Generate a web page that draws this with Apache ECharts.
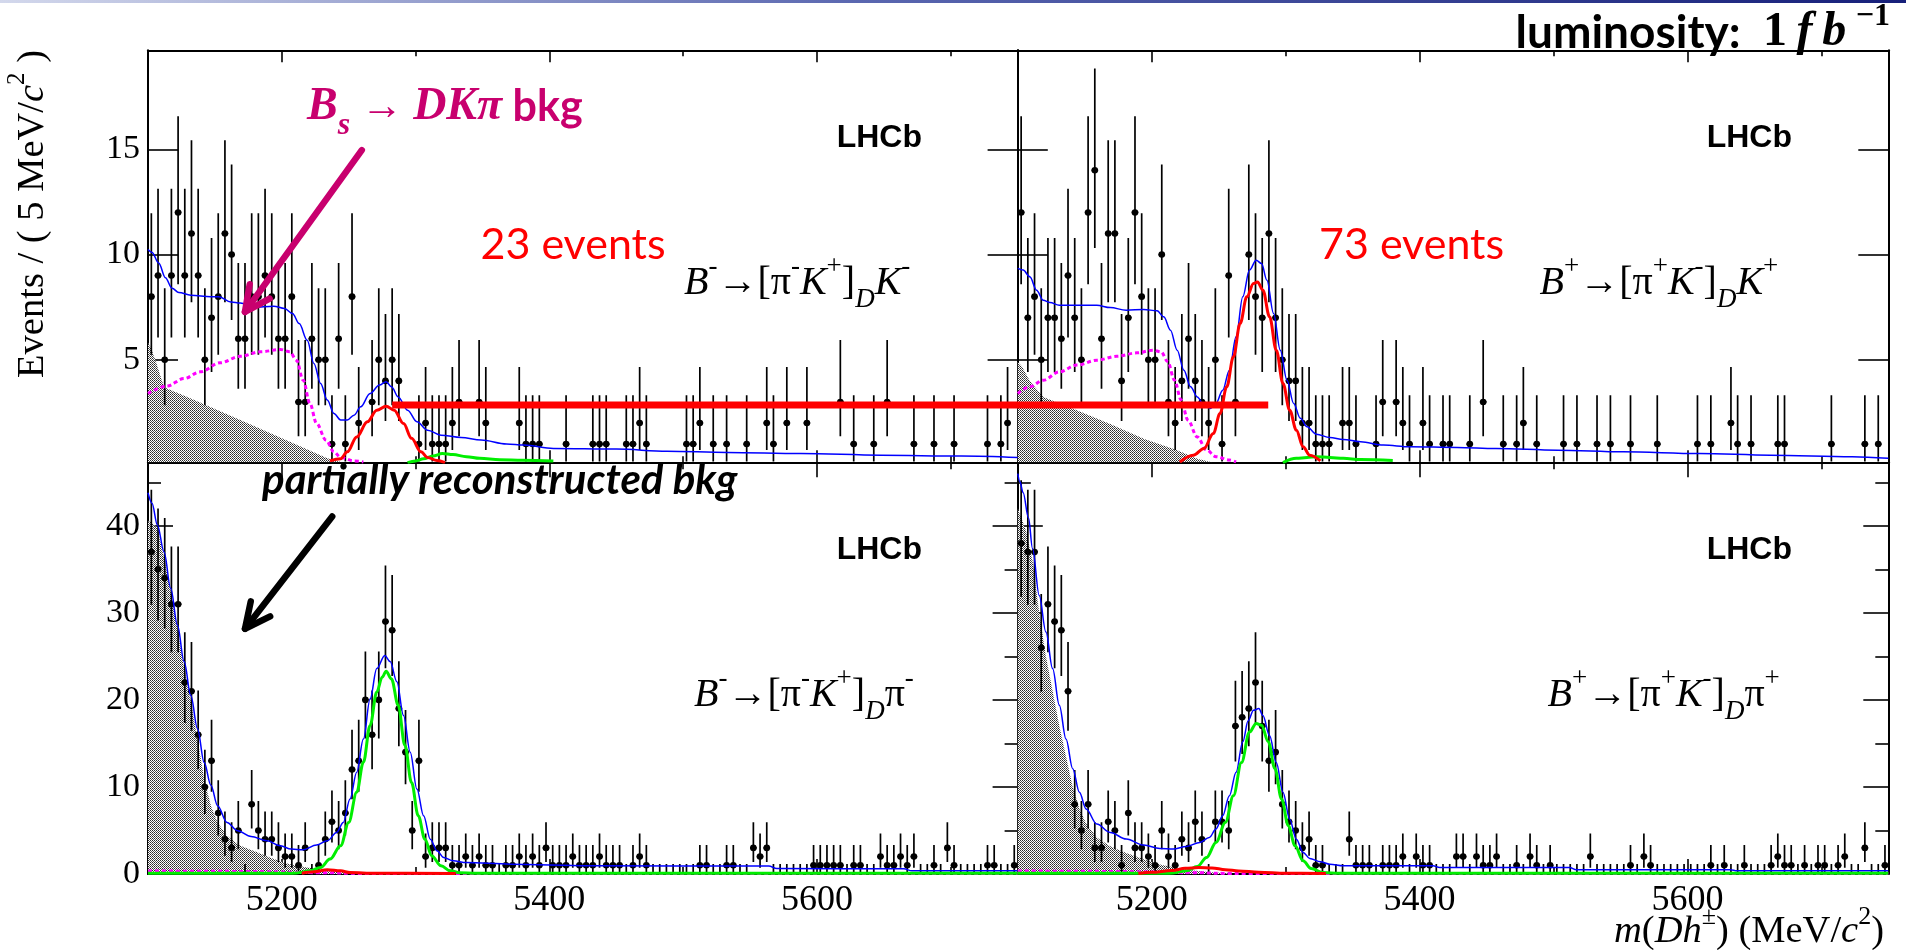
<!DOCTYPE html>
<html>
<head>
<meta charset="utf-8">
<title>B → [πK]_D h invariant mass fits</title>
<script src="https://cdn.jsdelivr.net/npm/echarts@6.0.0/dist/echarts.min.js"></script>
<style>
  html, body { margin: 0; padding: 0; background: #ffffff; }
  #chart { width: 1906px; height: 950px; }
</style>
</head>
<body>
<div id="chart"></div>
<script>
// ---------- binning ----------
const MASS_MIN = 5100;
const MASS_MAX = 5750;
const BIN_WIDTH = 5;

// ---------- tick values ----------
const massMajorTicks = [5200, 5400, 5600];
const massMinorTicks = [5300, 5500, 5700];
const dkTicks = [5, 10, 15];
const dpiMajorTicks = [0, 10, 20, 30, 40];
const dpiMinorTicks = [5, 15, 25, 35, 45];

// ---------- candidates per 5 MeV/c^2 bin, first bin starts at 5100 ----------
const countsKminus = [8,9,5,9,12,9,11,9,5,7, 8,11,10,6,6,8,8,9,8,6, 6,8,3,3,6,5,5,1,6,1,
  8,2,0,3,5,4,5,4,0,0, 1,2,1,1,1,2,3,0,0,3, 2,0,0,0,0,2,1,1,1,0, 0,0,1,0,0,0,1,1,1,0,
  0,1,1,2,1,0,0,0,0,0, 1,1,2,0,1,0,1,0,0,1, 0,0,2,1,0,2,0,0,2,0, 0,0,0,3,0,1,0,0,1,0,
  3,0,0,0,1,0,0,1,0,0, 1,0,0,0,0,1,0,1,2,0];
const countsKplus = [12,7,8,5,7,7,6,9,7,5, 12,14,6,11,11,4,7,12,8,5, 5,10,3,2,4,6,4,3,2,5,
  1,9,3,0,10,8,7,11,7,5, 4,4,2,2,1,1,1,0,2,2, 1,0,0,1,3,0,3,2,1,0, 2,1,0,1,1,0,0,1,0,3,
  0,0,1,0,1,2,0,1,0,0, 0,1,0,1,0,0,1,0,1,0, 0,1,0,0,0,1,0,0,0,0, 0,1,0,1,0,0,2,1,0,1,
  0,0,0,1,1,0,0,0,0,0, 0,1,0,0,0,0,1,0,1,0];
const countsPiMinus = [37,35,34,31,31,22,21,16,10,13, 7,4,3,5,0,8,5,4,4,3, 2,2,1,3,0,1,4,6,5,7,
  12,13,20,16,20,29,28,19,14,5, 13,2,3,3,3,1,1,2,1,2, 1,1,0,1,1,2,1,2,1,3, 1,1,1,2,1,1,1,2,1,1,
  1,0,1,2,1,0,0,0,0,0, 0,0,1,1,0,0,1,1,0,0, 3,2,3,0,0,0,0,0,0,1, 1,1,1,1,0,1,1,0,0,2,
  1,1,2,1,2,0,0,1,0,3, 1,0,0,0,0,1,1,0,0,1];
const countsPiPlus = [38,37,37,26,31,29,28,21,8,5, 8,3,3,6,5,1,7,3,3,2, 1,5,2,1,4,3,6,4,0,6,
  6,5,17,18,19,22,17,13,14,8, 6,5,3,4,1,1,0,0,0,4, 1,1,1,0,1,1,1,2,0,2, 1,1,0,0,0,2,2,0,2,1,
  1,2,0,0,1,0,2,1,0,1, 0,0,0,0,0,2,0,0,0,0, 0,1,0,2,1,0,0,0,0,0, 0,0,0,1,0,1,0,0,1,0,
  0,0,1,2,1,1,0,1,0,1, 1,0,1,2,0,0,3,0,0,1];

// ---------- fit components, [mass, events per bin] ----------
// B- -> [pi- K+]_D K-
const totalKminus = [[5100,10.24],[5103,10.1],[5108,9.6],[5113,8.9],[5118,8.4],[5123,8.2],[5132,8.07],[5147,8.0],[5153,8.0],[5162,7.75],[5169,7.7],[5179,7.5],[5194,7.55],[5202,7.44],[5208,7.2],[5213,6.72],[5219,5.93],[5224,4.83],[5229,3.88],[5234,3.09],[5239,2.45],[5244,2.14],[5249,2.14],[5254,2.37],[5259,2.77],[5266,3.4],[5273,3.8],[5278,3.96],[5282,3.72],[5287,3.24],[5294,2.61],[5301,2.06],[5309,1.66],[5319,1.42],[5334,1.31],[5349,1.19],[5368,1.0],[5381,0.95],[5403,0.79],[5450,0.76],[5488,0.66],[5533,0.6],[5588,0.55],[5648,0.47],[5708,0.43],[5750,0.36]];
const signalKminus = [[5236,0.2],[5244,0.3],[5249,0.63],[5256,1.34],[5264,2.06],[5271,2.61],[5278,2.8],[5284,2.61],[5291,1.98],[5297,1.27],[5304,0.63],[5309,0.36],[5316,0.22],[5322,0.12]];
const misidKminus = [[5294,0.12],[5300,0.2],[5306,0.3],[5313,0.43],[5320,0.55],[5328,0.5],[5338,0.4],[5348,0.32],[5363,0.26],[5380,0.23],[5403,0.2]];
const bsKminus = [[5100,3.4],[5114,3.75],[5127,4.11],[5139,4.43],[5154,4.86],[5169,5.17],[5184,5.38],[5199,5.49],[5206,5.38],[5211,4.98],[5216,4.03],[5221,2.93],[5226,1.98],[5233,1.19],[5239,0.63],[5244,0.36],[5254,0.2],[5261,0.15]];
const partRecoKminus = [[5100,5.8],[5102,5.6],[5106,4.9],[5112,3.7],[5132,3.16],[5169,2.14],[5206,1.11],[5234,0.32],[5245,0.13]];

// B+ -> [pi+ K-]_D K+
const totalKplus = [[5100,9.34],[5104,9.26],[5109,8.94],[5114,8.31],[5119,7.83],[5124,7.72],[5131,7.59],[5144,7.59],[5159,7.59],[5169,7.48],[5181,7.36],[5194,7.39],[5204,7.33],[5209,7.04],[5214,6.41],[5219,5.46],[5224,4.51],[5229,3.72],[5234,3.24],[5239,2.85],[5244,2.69],[5248,2.93],[5253,3.56],[5258,4.51],[5263,6.09],[5268,7.99],[5273,9.26],[5278,9.73],[5282,9.57],[5286,8.78],[5291,7.2],[5296,5.46],[5301,4.03],[5306,2.93],[5311,2.22],[5316,1.82],[5323,1.47],[5333,1.31],[5343,1.22],[5356,1.11],[5373,0.95],[5393,0.87],[5428,0.84],[5457,0.79],[5503,0.71],[5552,0.63],[5609,0.55],[5662,0.47],[5723,0.4],[5750,0.32]];
const signalKplus = [[5221,0.15],[5231,0.47],[5239,0.79],[5246,1.5],[5251,2.45],[5256,3.72],[5261,5.14],[5266,6.72],[5271,7.99],[5276,8.62],[5279,8.7],[5283,8.31],[5288,7.04],[5293,5.46],[5298,3.88],[5303,2.61],[5308,1.66],[5313,0.87],[5318,0.47],[5326,0.2]];
const misidKplus = [[5298,0.12],[5308,0.32],[5316,0.36],[5323,0.4],[5333,0.36],[5343,0.32],[5356,0.27],[5380,0.22]];
const bsKplus = [[5100,3.4],[5109,3.72],[5119,4.03],[5131,4.43],[5144,4.75],[5159,4.98],[5174,5.17],[5189,5.33],[5201,5.46],[5207,5.38],[5212,4.91],[5217,4.03],[5222,3.09],[5227,2.14],[5234,1.34],[5241,0.71],[5248,0.4],[5258,0.24],[5263,0.15]];
const partRecoKplus = [[5100,4.9],[5103,4.7],[5109,4.0],[5119,3.24],[5144,2.6],[5169,1.95],[5194,1.25],[5219,0.71],[5234,0.3],[5245,0.13]];

// B- -> [pi- K+]_D pi-
const totalPiMinus = [[5100,43.8],[5103,42.6],[5107,40.1],[5112,37.0],[5117,32.8],[5122,28.6],[5127,24.4],[5132,20.5],[5137,16.7],[5142,12.8],[5147,10.2],[5152,7.85],[5159,5.93],[5167,4.97],[5177,4.32],[5189,3.82],[5199,3.24],[5207,2.86],[5216,2.78],[5226,3.32],[5234,3.82],[5241,4.78],[5246,5.93],[5251,8.62],[5256,11.7],[5261,15.5],[5266,20.1],[5271,23.6],[5277,25.1],[5281,24.4],[5286,22.1],[5291,18.2],[5296,14.0],[5301,9.77],[5306,6.7],[5311,4.0],[5316,2.67],[5321,1.9],[5328,1.52],[5338,1.32],[5371,1.13],[5430,0.94],[5564,0.92],[5570,0.63],[5665,0.6],[5671,0.36],[5750,0.36]];
const dpiPeakPiMinus = [[5100,0.08],[5205,0.08],[5211,0.12],[5221,0.36],[5229,0.75],[5236,1.71],[5244,3.24],[5250,5.93],[5256,9.39],[5261,12.85],[5266,17.07],[5271,20.9],[5275,22.6],[5278,23.3],[5282,22.4],[5287,19.4],[5292,14.8],[5297,10.5],[5302,6.7],[5307,4.0],[5312,2.1],[5319,0.94],[5326,0.36],[5333,0.15],[5345,0.08],[5750,0.08]];
const dkMisidPiMinus = [[5215,0.08],[5224,0.25],[5234,0.48],[5244,0.36],[5251,0.17],[5270,0.08],[5330,0.05]];
const bsPiMinus = [[5100,0.35],[5170,0.3],[5230,0.15],[5260,0.06],[5750,0.05]];
const partRecoPiMinus = [[5100,40.5],[5102,40.5],[5107,39.7],[5112,36.3],[5117,32.4],[5122,28.2],[5127,23.6],[5132,19.8],[5137,15.5],[5142,10.9],[5147,7.85],[5152,5.93],[5159,4.4],[5169,3.24],[5182,2.48],[5194,1.71],[5206,1.13],[5219,0.75],[5231,0.48],[5244,0.25],[5256,0.1],[5260,0]];

// B+ -> [pi+ K-]_D pi+
const totalPiPlus = [[5100,46.0],[5101.5,45.1],[5104,43.8],[5108,40.9],[5111,37.4],[5116,32.0],[5121,27.8],[5126,23.6],[5131,19.4],[5136,15.5],[5141,12.1],[5146,9.4],[5151,7.47],[5159,5.74],[5169,4.78],[5181,4.01],[5194,3.32],[5206,2.94],[5216,2.86],[5226,3.17],[5236,3.63],[5243,4.2],[5248,5.17],[5253,6.7],[5258,9.0],[5263,11.7],[5268,15.2],[5272,17.6],[5276,18.8],[5280,19.0],[5283,18.2],[5288,15.9],[5293,12.8],[5298,9.4],[5303,6.3],[5308,4.0],[5313,2.48],[5318,1.79],[5326,1.4],[5333,1.13],[5343,0.94],[5410,0.94],[5415,0.75],[5512,0.75],[5517,0.48],[5632,0.48],[5637,0.36],[5750,0.36]];
const dpiPeakPiPlus = [[5100,0.08],[5210,0.08],[5216,0.12],[5226,0.36],[5234,0.86],[5241,1.9],[5248,3.63],[5255,5.93],[5261,9.0],[5267,12.8],[5273,16.3],[5278,17.3],[5282,17.1],[5287,15.2],[5292,12.1],[5297,8.6],[5302,5.55],[5307,3.24],[5313,1.52],[5319,0.63],[5328,0.17],[5340,0.08],[5750,0.08]];
const dkMisidPiPlus = [[5190,0.05],[5200,0.2],[5215,0.4],[5225,0.65],[5235,0.75],[5245,0.7],[5255,0.5],[5265,0.35],[5280,0.2],[5300,0.08],[5330,0.05]];
const bsPiPlus = [[5100,0.35],[5170,0.3],[5230,0.15],[5260,0.06],[5750,0.05]];
const partRecoPiPlus = [[5100,42],[5106,39.5],[5111,36],[5116,30],[5121,25],[5126,21],[5131,17],[5136,13.5],[5141,10],[5146,7.5],[5151,5.8],[5159,4.2],[5169,3.2],[5181,2.4],[5194,1.7],[5206,1.1],[5219,0.7],[5231,0.4],[5244,0.2],[5256,0.08],[5260,0]];

// ---------- styling ----------
const COL_TOTAL = '#0000ff';
const COL_RED = '#ff0000';
const COL_GREEN = '#00ee00';
const COL_BS = '#ff00ff';
const COL_NOTE = '#c8006e';
const SERIF = 'Liberation Serif';

// stippled fill used for the partially reconstructed background
const dotTile = document.createElement('canvas');
dotTile.width = 2; dotTile.height = 2;
(function () {
  const c = dotTile.getContext('2d');
  c.fillStyle = '#ffffff'; c.fillRect(0, 0, 2, 2);
  c.fillStyle = '#2a2a2a'; c.fillRect(0, 0, 1, 1);
  c.fillStyle = '#555555'; c.fillRect(1, 1, 1, 1);
})();

const panels = [
  { left: 148, top: 50.3, width: 869.6, height: 412, yMin: 0.133, yMax: 19.7,
    yMajor: dkTicks, yMinor: null, yLabels: true, xLabels: false, yMajorLen: 30, xMajorLen: 12, xMinorLen: 6,
    counts: countsKminus, zeroBins: false,
    partReco: partRecoKminus, total: totalKminus, bs: bsKminus, green: misidKminus, red: signalKminus },
  { left: 1017.8, top: 50.3, width: 870.5, height: 412, yMin: 0.133, yMax: 19.7,
    yMajor: dkTicks, yMinor: null, yLabels: false, xLabels: false, yMajorLen: 30, xMajorLen: 12, xMinorLen: 6,
    counts: countsKplus, zeroBins: false,
    partReco: partRecoKplus, total: totalKplus, bs: bsKplus, green: misidKplus, red: signalKplus },
  { left: 148, top: 462.3, width: 869.6, height: 411.7, yMin: 0, yMax: 47.3,
    yMajor: dpiMajorTicks, yMinor: dpiMinorTicks, yLabels: true, xLabels: true, yMajorLen: 25, xMajorLen: 15, xMinorLen: 7,
    counts: countsPiMinus, zeroBins: true,
    partReco: partRecoPiMinus, total: totalPiMinus, bs: bsPiMinus, green: dpiPeakPiMinus, red: dkMisidPiMinus },
  { left: 1017.8, top: 462.3, width: 870.5, height: 411.7, yMin: 0, yMax: 47.3,
    yMajor: dpiMajorTicks, yMinor: dpiMinorTicks, yLabels: false, xLabels: true, yMajorLen: 25, xMajorLen: 15, xMinorLen: 7,
    counts: countsPiPlus, zeroBins: true,
    partReco: partRecoPiPlus, total: totalPiPlus, bs: bsPiPlus, green: dpiPeakPiPlus, red: dkMisidPiPlus }
];

// 68% central Poisson interval for an observed count
function poissonInterval(n) {
  if (n === 0) return [0, 1.148];
  const lo = n * Math.pow(1 - 1 / (9 * n) - 1 / (3 * Math.sqrt(n)), 3);
  const hi = n + Math.sqrt(n + 0.75) + 1;
  return [lo, hi];
}

const plainNumber = function (v) { return String(v); };

function massAxis(gi, position, ticks, len, showLine, labels) {
  return {
    gridIndex: gi, type: 'value', min: MASS_MIN, max: MASS_MAX, position: position,
    axisLine: { show: showLine, onZero: false, lineStyle: { color: '#000', width: 2 } },
    axisTick: { show: true, inside: true, length: len, customValues: ticks, lineStyle: { color: '#000', width: 1.6 } },
    axisLabel: labels
      ? { show: true, customValues: ticks, margin: 9, color: '#000', fontFamily: SERIF, fontSize: 36, formatter: plainNumber }
      : { show: false },
    splitLine: { show: false }
  };
}

function countAxis(gi, p, position, ticks, len, showLine, labels) {
  return {
    gridIndex: gi, type: 'value', min: p.yMin, max: p.yMax, position: position,
    axisLine: { show: showLine, onZero: false, lineStyle: { color: '#000', width: 2 } },
    axisTick: ticks
      ? { show: true, inside: true, length: len, customValues: ticks, lineStyle: { color: '#000', width: 1.6 } }
      : { show: false },
    axisLabel: labels
      ? { show: true, customValues: ticks, margin: 8, color: '#000', fontFamily: SERIF, fontSize: 34, formatter: plainNumber }
      : { show: false },
    splitLine: { show: false }
  };
}

function renderBin(params, api) {
  const m = api.value(0), n = api.value(1), lo = api.value(2), hi = api.value(3);
  const top = api.coord([m, hi]);
  const bot = api.coord([m, lo]);
  const c = api.coord([m, n]);
  const l = api.coord([m - BIN_WIDTH / 2, n]);
  const r = api.coord([m + BIN_WIDTH / 2, n]);
  const st = { stroke: '#000', lineWidth: 1.7 };
  const children = [
    { type: 'line', shape: { x1: top[0], y1: top[1], x2: bot[0], y2: bot[1] }, style: st },
    { type: 'line', shape: { x1: l[0], y1: l[1], x2: r[0], y2: r[1] }, style: st }
  ];
  if (n > 0) children.push({ type: 'circle', shape: { cx: c[0], cy: c[1], r: 3.3 }, style: { fill: '#000' } });
  return { type: 'group', children: children };
}

function curve(xi, yi, data, color, width, z, dash) {
  return {
    type: 'line', xAxisIndex: xi, yAxisIndex: yi, data: data, symbol: 'none',
    smooth: 0.35, smoothMonotone: 'x', clip: true, silent: true, z: z,
    lineStyle: { color: color, width: width, type: dash || 'solid' },
    emphasis: { disabled: true }
  };
}

const grids = [], xAxes = [], yAxes = [], series = [];
panels.forEach(function (p, k) {
  grids.push({ left: p.left, top: p.top, width: p.width, height: p.height, outerBoundsMode: 'none', containLabel: false });
  xAxes.push(massAxis(k, 'bottom', massMajorTicks, p.xMajorLen, true, p.xLabels));
  xAxes.push(massAxis(k, 'top', massMajorTicks, p.xMajorLen, true, false));
  xAxes.push(massAxis(k, 'bottom', massMinorTicks, p.xMinorLen, false, false));
  xAxes.push(massAxis(k, 'top', massMinorTicks, p.xMinorLen, false, false));
  yAxes.push(countAxis(k, p, 'left', p.yMajor, p.yMajorLen, true, p.yLabels));
  yAxes.push(countAxis(k, p, 'right', p.yMajor, p.yMajorLen, true, false));
  yAxes.push(countAxis(k, p, 'left', p.yMinor, 13, false, false));
  yAxes.push(countAxis(k, p, 'right', p.yMinor, 13, false, false));
  const xi = 4 * k, yi = 4 * k;

  series.push({
    type: 'line', xAxisIndex: xi, yAxisIndex: yi, data: p.partReco, symbol: 'none', silent: true, z: 1,
    clip: true, lineStyle: { width: 0, opacity: 0 },
    areaStyle: { color: { image: dotTile, repeat: 'repeat' }, opacity: 1, origin: 'start' },
    emphasis: { disabled: true }
  });

  const bins = [];
  p.counts.forEach(function (n, i) {
    if (n === 0 && !p.zeroBins) return;
    const iv = poissonInterval(n);
    bins.push([MASS_MIN + BIN_WIDTH * (i + 0.5), n, iv[0], iv[1]]);
  });
  series.push({
    type: 'custom', xAxisIndex: xi, yAxisIndex: yi, data: bins, clip: true, z: 3, silent: true,
    dimensions: ['mass', 'count', 'low', 'high'], encode: { x: 0, y: [1, 2, 3] },
    renderItem: renderBin
  });

  series.push(curve(xi, yi, p.total, COL_TOTAL, 1.5, 4));
  series.push(curve(xi, yi, p.bs, COL_BS, 3, 5, [4, 3]));
  series.push(curve(xi, yi, p.green, COL_GREEN, 3, 5));
  series.push(curve(xi, yi, p.red, COL_RED, 3, 6));
});

const chart = echarts.init(document.getElementById('chart'), null, { renderer: 'canvas' });
chart.setOption({
  backgroundColor: '#ffffff',
  animation: false,
  grid: grids,
  xAxis: xAxes,
  yAxis: yAxes,
  series: series
});

// ---------- annotations ----------
function px(panel, m, v) {
  return chart.convertToPixel({ xAxisIndex: 4 * panel, yAxisIndex: 4 * panel }, [m, v]);
}

function arrow(p0, p1, color, width) {
  const dx = p0[0] - p1[0], dy = p0[1] - p1[1];
  const len = Math.hypot(dx, dy);
  const ux = dx / len, uy = dy / len;
  const head = 28, ang = 26 * Math.PI / 180;
  const rot = function (a) { return [ux * Math.cos(a) - uy * Math.sin(a), ux * Math.sin(a) + uy * Math.cos(a)]; };
  const w1 = rot(ang), w2 = rot(-ang);
  const tip = [p1[0] + ux * 2, p1[1] + uy * 2];
  return [
    { type: 'line', z: 100, shape: { x1: p0[0], y1: p0[1], x2: tip[0], y2: tip[1] },
      style: { stroke: color, lineWidth: width, lineCap: 'round' } },
    { type: 'polyline', z: 100,
      shape: { points: [[tip[0] + w1[0] * head, tip[1] + w1[1] * head], tip, [tip[0] + w2[0] * head, tip[1] + w2[1] * head]] },
      style: { stroke: color, lineWidth: width, fill: null, lineJoin: 'round', lineCap: 'round' } }
  ];
}

function plain(x, y, text, font, fill, align) {
  return { type: 'text', z: 100, x: x, y: y,
    style: Object.assign({ text: text, fill: fill || '#000', align: align || 'left', verticalAlign: 'middle' }, font) };
}

const decayRich = {
  n: { fontFamily: SERIF, fontSize: 40, lineHeight: 60, fill: '#000' },
  it: { fontFamily: SERIF, fontStyle: 'italic', fontSize: 40, lineHeight: 60, fill: '#000' },
  sup: { fontFamily: SERIF, fontSize: 27, lineHeight: 26, verticalAlign: 'top', fill: '#000' },
  sub: { fontFamily: SERIF, fontStyle: 'italic', fontSize: 27, lineHeight: 14, verticalAlign: 'bottom', fill: '#000' }
};
function decay(x, y, text) {
  return { type: 'text', z: 100, x: x, y: y, style: { text: text, rich: decayRich, align: 'left', verticalAlign: 'middle' } };
}

const lhcbFont = { fontFamily: 'Liberation Sans', fontWeight: 'bold', fontSize: 32 };
const graphics = [];

// slide header strip
graphics.push({ type: 'rect', z: 100, shape: { x: 0, y: 0, width: 1906, height: 3 },
  style: { fill: new echarts.graphic.LinearGradient(0, 0, 1, 0, [
    { offset: 0, color: '#d3d8ec' }, { offset: 0.45, color: '#5a67b0' }, { offset: 1, color: '#17207a' }]) } });

graphics.push(plain(836.7, 138.4, 'LHCb', lhcbFont));
graphics.push(plain(1706.7, 138.4, 'LHCb', lhcbFont));
graphics.push(plain(836.7, 550.3, 'LHCb', lhcbFont));
graphics.push(plain(1706.7, 550.3, 'LHCb', lhcbFont));

graphics.push(decay(684, 283.5, '{it|B}{sup|-}{n|→[π}{sup|-}{it|K}{sup|+}{n|]}{sub|D}{it|K}{sup|-}'));
graphics.push(decay(1539.5, 283.5, '{it|B}{sup|+}{n|→[π}{sup|+}{it|K}{sup|-}{n|]}{sub|D}{it|K}{sup|+}'));
graphics.push(decay(694, 695.3, '{it|B}{sup|-}{n|→[π}{sup|-}{it|K}{sup|+}{n|]}{sub|D}{n|π}{sup|-}'));
graphics.push(decay(1547.5, 695.3, '{it|B}{sup|+}{n|→[π}{sup|+}{it|K}{sup|-}{n|]}{sub|D}{n|π}{sup|+}'));

const eventsFont = { fontFamily: 'Lato', fontSize: 43 };
graphics.push(plain(480.5, 245.5, '23 events', eventsFont, COL_RED));
graphics.push(plain(1319, 245.5, '73 events', eventsFont, COL_RED));

graphics.push(plain(262, 480, 'partially reconstructed bkg',
  { fontFamily: 'Lato', fontWeight: 'bold', fontStyle: 'italic', fontSize: 42 }, '#000'));

graphics.push({ type: 'text', z: 100, x: 307, y: 107.5, style: {
  text: '{bi|B}{sub|s}{ar| → }{bi|DKπ}{bk| bkg}', align: 'left', verticalAlign: 'middle',
  rich: {
    bi: { fontFamily: SERIF, fontStyle: 'italic', fontWeight: 'bold', fontSize: 46, lineHeight: 68, fill: COL_NOTE },
    sub: { fontFamily: SERIF, fontStyle: 'italic', fontWeight: 'bold', fontSize: 32, lineHeight: 44, verticalAlign: 'bottom', fill: COL_NOTE },
    ar: { fontFamily: SERIF, fontSize: 42, lineHeight: 68, fill: COL_NOTE },
    bk: { fontFamily: 'Lato', fontWeight: 'bold', fontSize: 43, lineHeight: 68, fill: COL_NOTE }
  } } });

graphics.push({ type: 'text', z: 100, x: 1890, y: 33, style: {
  text: '{lb|luminosity:  }{one|1\u2009}{mi|f\u2009b\u2009}{sup|−1}', align: 'right', verticalAlign: 'middle',
  rich: {
    lb: { fontFamily: 'Lato', fontWeight: 'bold', fontSize: 46, lineHeight: 64, fill: '#000' },
    one: { fontFamily: SERIF, fontWeight: 'bold', fontSize: 48, lineHeight: 64, fill: '#000' },
    mi: { fontFamily: SERIF, fontWeight: 'bold', fontStyle: 'italic', fontSize: 48, lineHeight: 64, fill: '#000' },
    sup: { fontFamily: SERIF, fontWeight: 'bold', fontSize: 32, lineHeight: 48, verticalAlign: 'top', fill: '#000' }
  } } });

// axis titles
graphics.push({ type: 'text', z: 100, x: 32.5, y: 50, rotation: Math.PI / 2, style: {
  text: '{n|Events / ( 5 MeV/}{i|c}{sup|2}{n| )}', align: 'right', verticalAlign: 'middle',
  rich: {
    n: { fontFamily: SERIF, fontSize: 38.5, lineHeight: 56, fill: '#000' },
    i: { fontFamily: SERIF, fontStyle: 'italic', fontSize: 38.5, lineHeight: 56, fill: '#000' },
    sup: { fontFamily: SERIF, fontSize: 25, lineHeight: 30, verticalAlign: 'top', fill: '#000' }
  } } });
graphics.push({ type: 'text', z: 100, x: 1884, y: 932, style: {
  text: '{i|m}{n|(}{i|Dh}{sup|±}{n|) (MeV/}{i|c}{sup|2}{n|)}', align: 'right', verticalAlign: 'middle',
  rich: {
    n: { fontFamily: SERIF, fontSize: 38.5, lineHeight: 56, fill: '#000' },
    i: { fontFamily: SERIF, fontStyle: 'italic', fontSize: 38.5, lineHeight: 56, fill: '#000' },
    sup: { fontFamily: SERIF, fontSize: 26, lineHeight: 28, verticalAlign: 'top', fill: '#000' }
  } } });

// arrows pointing at the background components
arrow(px(0, 5259.8, 14.96), px(0, 5171.6, 7.2), COL_NOTE, 6.5).forEach(function (g) { graphics.push(g); });
arrow(px(2, 5237.7, 41.07), px(2, 5171.6, 28.0), '#000', 6.5).forEach(function (g) { graphics.push(g); });

// bar comparing the two D K signal heights
const barL = px(0, 5282.5, 2.85), barR = px(1, 5287, 2.85);
graphics.push({ type: 'line', z: 100, shape: { x1: barL[0], y1: barL[1], x2: barR[0], y2: barR[1] },
  style: { stroke: COL_RED, lineWidth: 7 } });

chart.setOption({ graphic: graphics });
</script>
</body>
</html>
